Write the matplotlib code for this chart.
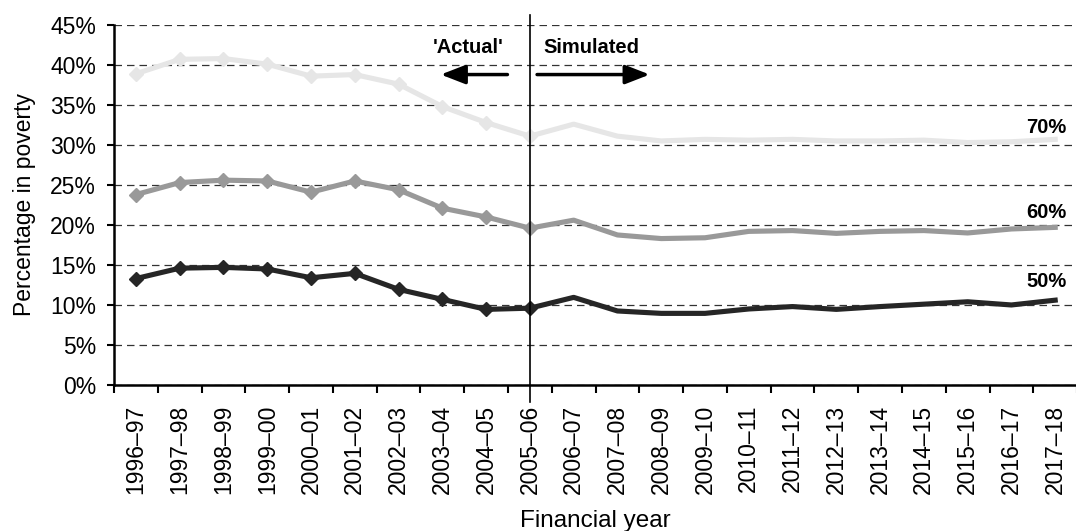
import numpy as np
import matplotlib.pyplot as plt

plt.rcParams['font.family'] = ['Liberation Sans', 'DejaVu Sans']
plt.rcParams['font.size'] = 16.5

# ================= 数据 =================
years = ['1996–97', '1997–98', '1998–99', '1999–00', '2000–01', '2001–02', '2002–03',
         '2003–04', '2004–05', '2005–06', '2006–07', '2007–08', '2008–09', '2009–10',
         '2010–11', '2011–12', '2012–13', '2013–14', '2014–15', '2015–16', '2016–17', '2017–18']
pov_70 = [38.9, 40.7, 40.8, 40.1, 38.6, 38.8, 37.6, 34.8, 32.8, 31.1, 32.6,
          31.1, 30.5, 30.7, 30.6, 30.7, 30.5, 30.5, 30.6, 30.3, 30.4, 30.7]
pov_60 = [23.8, 25.3, 25.6, 25.5, 24.1, 25.5, 24.4, 22.1, 21.0, 19.6, 20.6,
          18.75, 18.3, 18.4, 19.2, 19.3, 18.95, 19.2, 19.3, 19.0, 19.5, 19.7]
pov_50 = [13.3, 14.6, 14.7, 14.5, 13.4, 13.95, 11.95, 10.7, 9.45, 9.6, 10.95,
          9.25, 8.95, 8.95, 9.5, 9.8, 9.45, 9.8, 10.1, 10.4, 10.0, 10.6]
series_labels = ['70%', '60%', '50%']
n_actual = 10  # 1996–97 到 2005-06 为实际值

c_70 = '#e6e6e6'
c_60 = '#999999'
c_50 = '#262626'

fig = plt.figure(figsize=(10.76, 5.31), dpi=100)
ax = fig.add_axes([0.106, 0.275, 0.895, 0.678])

x = np.arange(len(years))
for vals, col in [(pov_70, c_70), (pov_60, c_60), (pov_50, c_50)]:
    v = np.array(vals) / 100
    ax.plot(x, v, color=col, linewidth=3.7, solid_joinstyle='round', zorder=3)
    ax.plot(x[:n_actual], v[:n_actual], color=col, linestyle='none', marker='D',
            markersize=7.5, zorder=4)

ax.set_xlim(-0.5, len(years) - 0.5)
ax.set_ylim(0, 0.45)
ax.set_yticks(np.arange(0, 0.451, 0.05))
ax.set_yticklabels([f'{int(round(t * 100))}%' for t in np.arange(0, 0.451, 0.05)])
ax.set_xticks(x)
ax.set_xticklabels(years, rotation=90)
ax.set_xticks(np.arange(-0.5, len(years)), minor=True)
ax.tick_params(axis='x', which='major', length=0, pad=14)
ax.tick_params(axis='x', which='minor', length=6, width=1.5, direction='out')
ax.tick_params(axis='y', length=5, width=1.5, direction='out', pad=8)

ax.yaxis.grid(True, linestyle=(0, (6, 4)), color='#333333', linewidth=0.9)
ax.set_axisbelow(True)
for s in ['top', 'right']:
    ax.spines[s].set_visible(False)
for s in ['left', 'bottom']:
    ax.spines[s].set_linewidth(1.8)

# 实际/模拟分隔线
ax.axvline(n_actual - 1, ymin=-0.047, ymax=1.028, color='black', linewidth=1.2,
           clip_on=False, zorder=5)

ax.annotate('', xy=(6.9, 0.388), xytext=(8.55, 0.388),
            arrowprops=dict(arrowstyle='-|>,head_width=0.35,head_length=0.9', color='black', lw=2.5))
ax.annotate('', xy=(11.8, 0.388), xytext=(9.1, 0.388),
            arrowprops=dict(arrowstyle='-|>,head_width=0.35,head_length=0.9', color='black', lw=2.5))
ax.text(7.6, 0.422, "'Actual'", ha='center', va='center', fontweight='bold', fontsize=14.5)
ax.text(9.3, 0.422, 'Simulated', ha='left', va='center', fontweight='bold', fontsize=14.5)

for lab, yy in zip(series_labels, [0.322, 0.216, 0.129]):
    ax.text(20.8, yy, lab, ha='center', va='center', fontweight='bold', fontsize=14.5)

ax.set_ylabel('Percentage in poverty', labelpad=10)
ax.set_xlabel('Financial year', fontsize=17.5, labelpad=12)

fig.savefig('out.png', dpi=100)
